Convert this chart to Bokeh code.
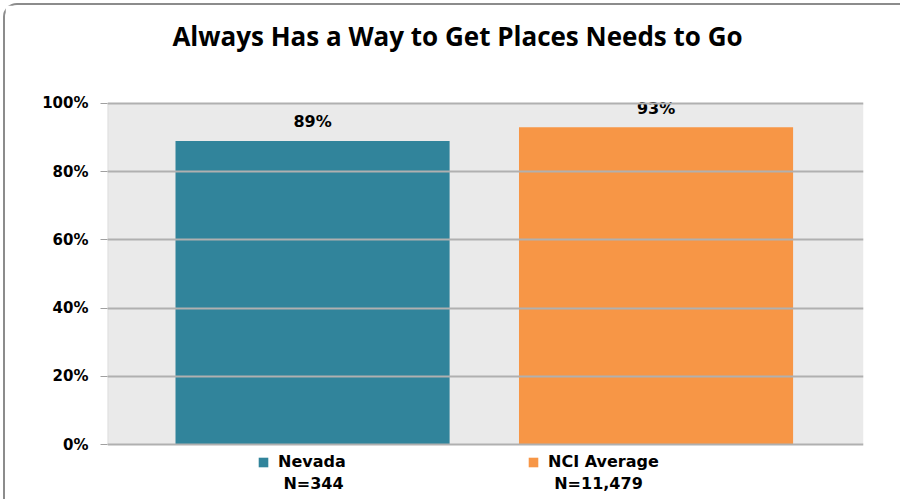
from bokeh.plotting import figure
from bokeh.models import (Range1d, Legend, LegendItem, Label, ColumnDataSource,
                          FixedTicker, PrintfTickFormatter, BoxAnnotation)
from bokeh.embed import file_html
from bokeh.resources import INLINE
from bokeh.core.properties import value

# ---- data ----
title_text = "Always Has a Way to Get Places Needs to Go"
groups = ["Nevada", "NCI Average"]
sample_sizes = ["N=344", "N=11,479"]
percent = [89, 93]
colors = ["#31849B", "#F79646"]
y_ticks = [0, 20, 40, 60, 80, 100]

x_pos = list(range(len(groups)))
src = ColumnDataSource(dict(
    x=x_pos, top=percent, color=colors,
    label=[f"{v}%" for v in percent], group=groups))

FONT = "DejaVu Sans"
X_LO, X_HI = -0.597, 1.604
Y_LO, Y_HI = -16.7, 128.7

p = figure(width=897, height=496, output_backend="svg", toolbar_location=None,
           x_range=Range1d(X_LO, X_HI), y_range=Range1d(Y_LO, Y_HI),
           min_border_left=102, min_border_right=39, min_border_top=0,
           min_border_bottom=0)
p.styles = {"border-left": "2px solid #8c8c8c", "border-top": "2px solid #8c8c8c",
            "border-top-left-radius": "14px", "margin-left": "3px",
            "margin-top": "3px"}

p.background_fill_color = "white"
p.border_fill_color = "white"
p.outline_line_color = None

# grey plotting area (0..100 %) and its left edge line
p.add_layout(BoxAnnotation(bottom=0, top=100, fill_color="#EAEAEA",
                           fill_alpha=1, line_color=None, level="underlay"))
p.add_layout(BoxAnnotation(bottom=0, top=100, right=X_LO, fill_alpha=0,
                           line_color="#A0A0A0", line_width=1.5,
                           level="underlay"))

p.xaxis.visible = False
p.xgrid.visible = False
p.ygrid.ticker = FixedTicker(ticks=y_ticks)
p.ygrid.grid_line_color = "#B0B0B0"
p.ygrid.grid_line_width = 2
p.ygrid.level = "glyph"

bars = p.vbar(x="x", top="top", width=0.798, bottom=0, source=src,
              fill_color="color", line_color=None)

p.text(x="x", y="top", text="label", source=src, text_align="center",
       text_baseline="middle", y_offset=-19, text_font=value(FONT),
       text_font_style="bold", text_font_size="16px", text_color="black")

ya = p.yaxis[0]
ya.ticker = FixedTicker(ticks=y_ticks)
ya.formatter = PrintfTickFormatter(format="%d%%")
ya.major_label_text_font = FONT
ya.major_label_text_font_style = "bold"
ya.major_label_text_font_size = "15px"
ya.major_label_text_color = "black"
ya.axis_line_color = None
ya.major_tick_line_color = "#A0A0A0"
ya.major_tick_out = 7
ya.major_tick_in = 0
ya.minor_tick_line_color = None
ya.major_label_standoff = 12

# title
p.add_layout(Label(x=350, y=466, x_units="screen", y_units="screen",
                   text=title_text, text_align="center", text_baseline="middle",
                   text_font="Open Sans", text_font_style="bold",
                   text_font_size="26px", text_color="black"))

# legend entries and sample sizes under the plot
legend_x = [150, 420]
for i, g in enumerate(groups):
    lg = Legend(items=[LegendItem(label=g, renderers=[bars], index=i)],
                location=(legend_x[i], 30), orientation="horizontal",
                padding=0, margin=0, border_line_color=None,
                background_fill_alpha=0, glyph_width=12, glyph_height=12,
                label_standoff=9, label_height=16,
                label_text_font=FONT, label_text_font_style="bold",
                label_text_font_size="16px", label_text_color="black")
    p.add_layout(lg, "center")

n_x = [206, 491]
for i, s in enumerate(sample_sizes):
    p.add_layout(Label(x=n_x[i], y=18, x_units="screen", y_units="screen",
                       text=s, text_align="center", text_baseline="middle",
                       text_font=FONT, text_font_style="bold",
                       text_font_size="16px", text_color="black"))

open("out.html", "w").write(file_html(p, INLINE))
